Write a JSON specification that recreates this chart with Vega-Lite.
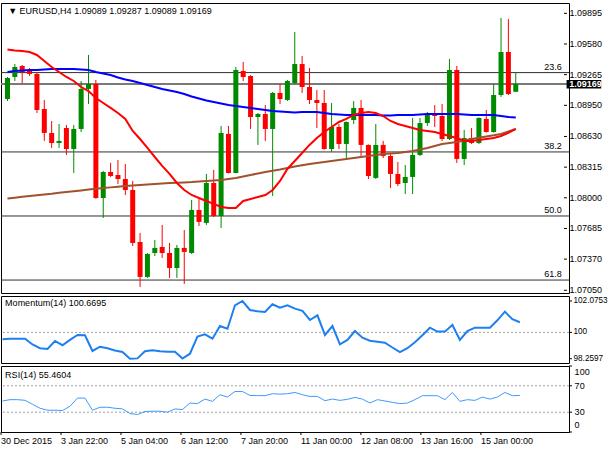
{
"$schema":"https://vega.github.io/schema/vega-lite/v6.json",
"padding":{"left":-3,"top":2,"right":0,"bottom":0},
"background":"white",
"spacing":3,
"bounds":"flush",
"config":{"view":{"stroke":"#000000","strokeWidth":1},"font":"Liberation Sans","text":{"font":"Liberation Sans","fontSize":9,"color":"#000000"}},
"datasets":{
"bars":[
{"i":0,"o":1.09015,"h":1.09241,"l":1.08994,"c":1.09231,"r":1.09523,"b":1.09292,"s":1.07993,"m":99.55,"rsi":47},
{"i":1,"o":1.09241,"h":1.09374,"l":1.092,"c":1.09344,"r":1.09513,"b":1.09302,"s":1.08001,"m":99.58,"rsi":49},
{"i":2,"o":1.09354,"h":1.09364,"l":1.09179,"c":1.09292,"r":1.09508,"b":1.09308,"s":1.0801,"m":99.58,"rsi":49},
{"i":3,"o":1.09313,"h":1.09333,"l":1.09251,"c":1.09272,"r":1.09498,"b":1.09313,"s":1.08018,"m":99.58,"rsi":48},
{"i":4,"o":1.09272,"h":1.09292,"l":1.08871,"c":1.08902,"r":1.09467,"b":1.09313,"s":1.08026,"m":99.2,"rsi":42},
{"i":5,"o":1.08912,"h":1.09005,"l":1.08584,"c":1.08666,"r":1.09405,"b":1.09318,"s":1.08034,"m":98.95,"rsi":36},
{"i":6,"o":1.08666,"h":1.08789,"l":1.08512,"c":1.08563,"r":1.09344,"b":1.09323,"s":1.08042,"m":98.9,"rsi":33},
{"i":7,"o":1.08563,"h":1.08758,"l":1.08512,"c":1.08584,"r":1.09292,"b":1.09323,"s":1.08052,"m":99.43,"rsi":33},
{"i":8,"o":1.08717,"h":1.08748,"l":1.0844,"c":1.08501,"r":1.09241,"b":1.09323,"s":1.0806,"m":99.15,"rsi":32.5},
{"i":9,"o":1.08501,"h":1.08748,"l":1.08255,"c":1.08707,"r":1.092,"b":1.09323,"s":1.08068,"m":99.5,"rsi":39},
{"i":10,"o":1.08707,"h":1.092,"l":1.08676,"c":1.09118,"r":1.09138,"b":1.09318,"s":1.08076,"m":99.83,"rsi":51.4},
{"i":11,"o":1.09118,"h":1.09467,"l":1.08964,"c":1.09169,"r":1.09097,"b":1.09313,"s":1.08084,"m":99.81,"rsi":51.4},
{"i":12,"o":1.09169,"h":1.0921,"l":1.0799,"c":1.07998,"r":1.09025,"b":1.09292,"s":1.08093,"m":98.77,"rsi":33},
{"i":13,"o":1.07998,"h":1.08276,"l":1.07793,"c":1.08265,"r":1.08974,"b":1.09277,"s":1.08101,"m":99.05,"rsi":37.5},
{"i":14,"o":1.08265,"h":1.08358,"l":1.08214,"c":1.08224,"r":1.08923,"b":1.09262,"s":1.08107,"m":98.95,"rsi":37.5},
{"i":15,"o":1.08234,"h":1.08388,"l":1.08142,"c":1.08193,"r":1.08871,"b":1.09236,"s":1.08114,"m":98.8,"rsi":36},
{"i":16,"o":1.08193,"h":1.08347,"l":1.08029,"c":1.0808,"r":1.0881,"b":1.09215,"s":1.0812,"m":98.7,"rsi":35},
{"i":17,"o":1.0808,"h":1.08173,"l":1.07505,"c":1.07536,"r":1.08686,"b":1.092,"s":1.08127,"m":98.2597,"rsi":28},
{"i":18,"o":1.07546,"h":1.07639,"l":1.07084,"c":1.07187,"r":1.08604,"b":1.09179,"s":1.08132,"m":98.28,"rsi":26.5},
{"i":19,"o":1.07187,"h":1.07433,"l":1.07177,"c":1.07423,"r":1.08512,"b":1.09159,"s":1.08137,"m":98.75,"rsi":31},
{"i":20,"o":1.07433,"h":1.07567,"l":1.07402,"c":1.07485,"r":1.08419,"b":1.09138,"s":1.08142,"m":98.82,"rsi":31.5},
{"i":21,"o":1.07495,"h":1.07721,"l":1.07382,"c":1.07433,"r":1.08327,"b":1.09118,"s":1.08147,"m":98.75,"rsi":31.5},
{"i":22,"o":1.07433,"h":1.07536,"l":1.07177,"c":1.07279,"r":1.08245,"b":1.09102,"s":1.08151,"m":98.72,"rsi":30},
{"i":23,"o":1.07279,"h":1.07515,"l":1.07177,"c":1.07485,"r":1.08152,"b":1.09087,"s":1.08155,"m":98.72,"rsi":34.9},
{"i":24,"o":1.07485,"h":1.07669,"l":1.07115,"c":1.07444,"r":1.0808,"b":1.09066,"s":1.08158,"m":98.27,"rsi":34},
{"i":25,"o":1.07433,"h":1.07978,"l":1.07423,"c":1.07875,"r":1.08029,"b":1.09041,"s":1.08162,"m":98.59,"rsi":43.9},
{"i":26,"o":1.07875,"h":1.07988,"l":1.07711,"c":1.07752,"r":1.07998,"b":1.0902,"s":1.08168,"m":99.72,"rsi":43},
{"i":27,"o":1.07742,"h":1.08245,"l":1.07721,"c":1.08152,"r":1.07967,"b":1.09,"s":1.08173,"m":99.87,"rsi":49.9},
{"i":28,"o":1.08152,"h":1.08286,"l":1.07803,"c":1.07813,"r":1.07937,"b":1.08984,"s":1.08178,"m":99.58,"rsi":46.4},
{"i":29,"o":1.07813,"h":1.08738,"l":1.0769,"c":1.08666,"r":1.07906,"b":1.08969,"s":1.08183,"m":100.42,"rsi":56.5},
{"i":30,"o":1.08656,"h":1.08738,"l":1.0825,"c":1.08255,"r":1.07895,"b":1.08953,"s":1.08193,"m":100.24,"rsi":52.9},
{"i":31,"o":1.08255,"h":1.09344,"l":1.0825,"c":1.09313,"r":1.07895,"b":1.08943,"s":1.08204,"m":101.79,"rsi":61.4},
{"i":32,"o":1.09303,"h":1.09395,"l":1.092,"c":1.09241,"r":1.07967,"b":1.08933,"s":1.08219,"m":102.0753,"rsi":61.4},
{"i":33,"o":1.09251,"h":1.0926,"l":1.08707,"c":1.0883,"r":1.07988,"b":1.08923,"s":1.08234,"m":101.48,"rsi":55.4},
{"i":34,"o":1.0883,"h":1.08871,"l":1.08543,"c":1.08861,"r":1.08008,"b":1.08912,"s":1.0825,"m":101.4,"rsi":55.2},
{"i":35,"o":1.08861,"h":1.08953,"l":1.08584,"c":1.08707,"r":1.08029,"b":1.08902,"s":1.08265,"m":101.35,"rsi":55},
{"i":36,"o":1.08707,"h":1.09087,"l":1.08019,"c":1.09077,"r":1.0808,"b":1.08892,"s":1.08278,"m":101.86,"rsi":58},
{"i":37,"o":1.09077,"h":1.09169,"l":1.08964,"c":1.09015,"r":1.08173,"b":1.08887,"s":1.08291,"m":101.63,"rsi":57.4},
{"i":38,"o":1.09005,"h":1.0921,"l":1.08994,"c":1.092,"r":1.08296,"b":1.08882,"s":1.08306,"m":101.79,"rsi":58},
{"i":39,"o":1.09179,"h":1.09703,"l":1.09169,"c":1.09374,"r":1.08378,"b":1.08877,"s":1.08322,"m":101.57,"rsi":59.9},
{"i":40,"o":1.09374,"h":1.09457,"l":1.09077,"c":1.09138,"r":1.0846,"b":1.08882,"s":1.08334,"m":101.42,"rsi":56.5},
{"i":41,"o":1.09138,"h":1.09333,"l":1.08964,"c":1.09005,"r":1.08543,"b":1.08882,"s":1.08347,"m":100.82,"rsi":53.9},
{"i":42,"o":1.09005,"h":1.09107,"l":1.08717,"c":1.08974,"r":1.08614,"b":1.08882,"s":1.08358,"m":101.13,"rsi":53.9},
{"i":43,"o":1.08974,"h":1.09107,"l":1.08495,"c":1.08501,"r":1.08676,"b":1.08871,"s":1.08368,"m":99.83,"rsi":47.5},
{"i":44,"o":1.08501,"h":1.08974,"l":1.08471,"c":1.08727,"r":1.08727,"b":1.08861,"s":1.08378,"m":100.42,"rsi":49.9},
{"i":45,"o":1.08727,"h":1.08758,"l":1.08501,"c":1.08553,"r":1.08779,"b":1.08856,"s":1.08388,"m":99.21,"rsi":47.9},
{"i":46,"o":1.08553,"h":1.08785,"l":1.08409,"c":1.08779,"r":1.0881,"b":1.08851,"s":1.08399,"m":99.5,"rsi":49.5},
{"i":47,"o":1.08799,"h":1.08994,"l":1.08758,"c":1.08923,"r":1.08851,"b":1.08851,"s":1.08409,"m":100.09,"rsi":52.4},
{"i":48,"o":1.08923,"h":1.09005,"l":1.0843,"c":1.08543,"r":1.08871,"b":1.08851,"s":1.08419,"m":99.65,"rsi":49.9},
{"i":49,"o":1.08543,"h":1.08548,"l":1.08193,"c":1.08224,"r":1.08882,"b":1.08851,"s":1.0843,"m":99.45,"rsi":43.9},
{"i":50,"o":1.08204,"h":1.08758,"l":1.08193,"c":1.08543,"r":1.08871,"b":1.08851,"s":1.0844,"m":99.38,"rsi":49},
{"i":51,"o":1.08543,"h":1.08584,"l":1.08409,"c":1.0843,"r":1.0884,"b":1.08846,"s":1.0845,"m":99.32,"rsi":47},
{"i":52,"o":1.0843,"h":1.0846,"l":1.08101,"c":1.08245,"r":1.08789,"b":1.08846,"s":1.08455,"m":99.0,"rsi":45},
{"i":53,"o":1.08245,"h":1.08368,"l":1.08121,"c":1.08142,"r":1.08758,"b":1.08851,"s":1.0846,"m":98.7,"rsi":43},
{"i":54,"o":1.08152,"h":1.08337,"l":1.08039,"c":1.08214,"r":1.08738,"b":1.08851,"s":1.08471,"m":98.95,"rsi":43.9},
{"i":55,"o":1.08214,"h":1.0882,"l":1.08039,"c":1.0844,"r":1.08717,"b":1.08851,"s":1.08481,"m":99.35,"rsi":49},
{"i":56,"o":1.0844,"h":1.0882,"l":1.0843,"c":1.08768,"r":1.08697,"b":1.08856,"s":1.08496,"m":99.81,"rsi":55},
{"i":57,"o":1.08768,"h":1.08882,"l":1.08738,"c":1.08851,"r":1.08686,"b":1.08861,"s":1.08512,"m":100.31,"rsi":55},
{"i":58,"o":1.08861,"h":1.08953,"l":1.08727,"c":1.0884,"r":1.08676,"b":1.08861,"s":1.08532,"m":100.05,"rsi":55},
{"i":59,"o":1.0884,"h":1.08964,"l":1.08584,"c":1.08604,"r":1.08656,"b":1.08861,"s":1.08553,"m":100.05,"rsi":49},
{"i":60,"o":1.08604,"h":1.09426,"l":1.08594,"c":1.09313,"r":1.08635,"b":1.08861,"s":1.08563,"m":100.49,"rsi":59.9},
{"i":61,"o":1.09313,"h":1.09354,"l":1.08358,"c":1.08399,"r":1.08614,"b":1.08861,"s":1.08573,"m":99.5,"rsi":46.4},
{"i":62,"o":1.08399,"h":1.08697,"l":1.08337,"c":1.08614,"r":1.08584,"b":1.08856,"s":1.08589,"m":100.09,"rsi":49},
{"i":63,"o":1.08614,"h":1.08717,"l":1.08553,"c":1.08563,"r":1.08584,"b":1.08851,"s":1.08604,"m":100.31,"rsi":47.9},
{"i":64,"o":1.08563,"h":1.08825,"l":1.08553,"c":1.0882,"r":1.08594,"b":1.08851,"s":1.08617,"m":100.31,"rsi":52.9},
{"i":65,"o":1.0881,"h":1.08902,"l":1.0867,"c":1.08676,"r":1.08604,"b":1.08851,"s":1.0863,"m":100.31,"rsi":49.9},
{"i":66,"o":1.08676,"h":1.09169,"l":1.0867,"c":1.09056,"r":1.08614,"b":1.08851,"s":1.08642,"m":100.8,"rsi":53},
{"i":67,"o":1.09056,"h":1.09847,"l":1.09036,"c":1.09498,"r":1.08635,"b":1.0884,"s":1.08656,"m":101.37,"rsi":59.9},
{"i":68,"o":1.09498,"h":1.09837,"l":1.09056,"c":1.09066,"r":1.08666,"b":1.0883,"s":1.08681,"m":100.87,"rsi":55},
{"i":69,"o":1.09089,"h":1.09287,"l":1.09089,"c":1.09169,"r":1.08707,"b":1.08825,"s":1.08707,"m":100.6695,"rsi":55.4604}
],
"fib":[{"lvl":"23.6","p":1.09286},{"lvl":"38.2","p":1.08471},{"lvl":"50.0","p":1.07813},{"lvl":"61.8","p":1.07155}],
"ytMain":[{"v":1.0705},{"v":1.0737},{"v":1.07685},{"v":1.08},{"v":1.08315},{"v":1.0863},{"v":1.0895},{"v":1.09265},{"v":1.0958},{"v":1.09895}],
"ytMom":[{"v":98.2597,"t":"98.2597"},{"v":100,"t":"100"},{"v":102.0753,"t":"102.0753"}],
"ytRsi":[{"v":0,"t":"0"},{"v":30,"t":"30"},{"v":70,"t":"70"},{"v":100,"t":"100"}],
"xt":[{"i":-0.2,"t":"30 Dec 2015"},{"i":7.8,"t":"3 Jan 22:00"},{"i":15.8,"t":"5 Jan 04:00"},{"i":23.8,"t":"6 Jan 12:00"},{"i":31.8,"t":"7 Jan 20:00"},{"i":39.8,"t":"11 Jan 00:00"},{"i":47.8,"t":"12 Jan 08:00"},{"i":55.8,"t":"13 Jan 16:00"},{"i":63.8,"t":"15 Jan 00:00"}]
},
"vconcat":[
{"width":568,"height":290,
"layer":[
{"data":{"name":"fib"},"mark":{"type":"rule","color":"#303030","strokeWidth":1},
 "encoding":{"y":{"field":"p","type":"quantitative","scale":{"domain":[1.07022,1.10001],"nice":false,"zero":false},"axis":null}}},
{"data":{"values":[{"p":1.09169}]},"mark":{"type":"rule","color":"#7a7a7a","strokeWidth":2},
 "encoding":{"y":{"field":"p","type":"quantitative","axis":null}}},
{"data":{"name":"bars"},"mark":{"type":"rule","strokeWidth":1},
 "encoding":{"x":{"field":"i","type":"quantitative","scale":{"domain":[-0.2,75.55],"nice":false,"zero":false},"axis":null},
  "y":{"field":"l","type":"quantitative","axis":null},"y2":{"field":"h"},
  "color":{"condition":{"test":"datum.c >= datum.o","value":"#008a00"},"value":"#ff0000"}}},
{"data":{"name":"bars"},"mark":{"type":"bar","width":5},
 "encoding":{"x":{"field":"i","type":"quantitative","axis":null},
  "y":{"field":"o","type":"quantitative","axis":null},"y2":{"field":"c"},
  "color":{"condition":{"test":"datum.c >= datum.o","value":"#008a00"},"value":"#ff0000"}}},
{"data":{"name":"bars"},"mark":{"type":"line","color":"#a0522d","strokeWidth":2},
 "encoding":{"x":{"field":"i","type":"quantitative","axis":null},"y":{"field":"s","type":"quantitative","axis":null}}},
{"data":{"name":"bars"},"mark":{"type":"line","color":"#0000ff","strokeWidth":2},
 "encoding":{"x":{"field":"i","type":"quantitative","axis":null},"y":{"field":"b","type":"quantitative","axis":null}}},
{"data":{"name":"bars"},"mark":{"type":"line","color":"#ff0000","strokeWidth":2},
 "encoding":{"x":{"field":"i","type":"quantitative","axis":null},"y":{"field":"r","type":"quantitative","axis":null}}},
{"data":{"name":"fib"},"mark":{"type":"text","align":"right","baseline":"bottom","dy":-1},
 "encoding":{"x":{"datum":75.25,"type":"quantitative"},"y":{"field":"p","type":"quantitative"},"text":{"field":"lvl"}}},
{"data":{"values":[{"t":"▼ EURUSD,H4  1.09089 1.09287 1.09089 1.09169"}]},"mark":{"type":"text","align":"left","baseline":"middle"},
 "encoding":{"x":{"datum":0.1,"type":"quantitative"},"y":{"datum":1.0992,"type":"quantitative"},"text":{"field":"t"}}},
{"data":{"name":"ytMain"},"mark":{"type":"rule","color":"#000000"},
 "encoding":{"x":{"datum":75.55,"type":"quantitative"},"x2":{"datum":75.95},"y":{"field":"v","type":"quantitative"}}},
{"data":{"name":"ytMain"},"mark":{"type":"text","align":"left","baseline":"middle"},
 "encoding":{"x":{"datum":76.3,"type":"quantitative"},"y":{"field":"v","type":"quantitative"},"text":{"field":"v","type":"quantitative","format":".5f"}}},
{"data":{"values":[{"p":1.09169}]},"mark":{"type":"rect","color":"#000000"},
 "encoding":{"x":{"datum":75.9,"type":"quantitative"},"x2":{"datum":80.6},"y":{"datum":1.0921,"type":"quantitative"},"y2":{"datum":1.09123}}},
{"data":{"values":[{"t":"1.09169","p":1.09169}]},"mark":{"type":"text","align":"left","baseline":"middle","fontWeight":"bold","color":"#ffffff"},
 "encoding":{"x":{"datum":76.25,"type":"quantitative"},"y":{"field":"p","type":"quantitative"},"text":{"field":"t"}}}
]},
{"width":568,"height":67,
"layer":[
{"data":{"values":[{"v":100}]},"mark":{"type":"rule","color":"#a0a0a0","strokeDash":[2,2]},
 "encoding":{"y":{"field":"v","type":"quantitative","scale":{"domain":[97.975,102.406],"nice":false,"zero":false},"axis":null}}},
{"data":{"name":"bars"},"mark":{"type":"line","color":"#1e80f0","strokeWidth":2},
 "encoding":{"x":{"field":"i","type":"quantitative","scale":{"domain":[-0.2,75.55],"nice":false,"zero":false},"axis":null},"y":{"field":"m","type":"quantitative","axis":null}}},
{"data":{"values":[{"t":"Momentum(14) 100.6695"}]},"mark":{"type":"text","align":"left","baseline":"middle"},
 "encoding":{"x":{"datum":0.35,"type":"quantitative"},"y":{"datum":101.94,"type":"quantitative"},"text":{"field":"t"}}},
{"data":{"name":"ytMom"},"mark":{"type":"rule","color":"#000000"},
 "encoding":{"x":{"datum":75.55,"type":"quantitative"},"x2":{"datum":75.95},"y":{"field":"v","type":"quantitative"}}},
{"data":{"name":"ytMom"},"mark":{"type":"text","align":"left","baseline":"middle","fontSize":8.2},
 "encoding":{"x":{"datum":76.15,"type":"quantitative"},"y":{"field":"v","type":"quantitative"},"text":{"field":"t"}}}
]},
{"width":568,"height":66,
"layer":[
{"data":{"values":[{"v":70},{"v":30}]},"mark":{"type":"rule","color":"#a0a0a0","strokeDash":[2,2]},
 "encoding":{"y":{"field":"v","type":"quantitative","scale":{"domain":[0,100],"nice":false,"zero":false},"axis":null}}},
{"data":{"name":"bars"},"mark":{"type":"line","color":"#3d9bff","strokeWidth":1},
 "encoding":{"x":{"field":"i","type":"quantitative","scale":{"domain":[-0.2,75.55],"nice":false,"zero":false},"axis":null},
  "y":{"field":"rsi","type":"quantitative","axis":null}}},
{"data":{"values":[{"t":"RSI(14) 55.4604"}]},"mark":{"type":"text","align":"left","baseline":"middle"},
 "encoding":{"x":{"datum":0.35,"type":"quantitative"},"y":{"datum":86.5,"type":"quantitative"},"text":{"field":"t"}}},
{"data":{"name":"ytRsi"},"mark":{"type":"rule","color":"#000000"},
 "encoding":{"x":{"datum":75.55,"type":"quantitative"},"x2":{"datum":75.95},"y":{"field":"v","type":"quantitative"}}},
{"data":{"name":"ytRsi"},"transform":[{"filter":"datum.v == 30 || datum.v == 70"}],"mark":{"type":"text","align":"left","baseline":"middle"},
 "encoding":{"x":{"datum":76.3,"type":"quantitative"},"y":{"field":"v","type":"quantitative"},"text":{"field":"t"}}},
{"data":{"name":"ytRsi"},"transform":[{"filter":"datum.v == 100"}],"mark":{"type":"text","align":"left","baseline":"top","dy":2},
 "encoding":{"x":{"datum":76.3,"type":"quantitative"},"y":{"field":"v","type":"quantitative"},"text":{"field":"t"}}},
{"data":{"name":"ytRsi"},"transform":[{"filter":"datum.v == 0"}],"mark":{"type":"text","align":"left","baseline":"bottom","dy":-2},
 "encoding":{"x":{"datum":76.3,"type":"quantitative"},"y":{"field":"v","type":"quantitative"},"text":{"field":"t"}}},
{"data":{"name":"xt"},"mark":{"type":"rule","color":"#000000"},
 "encoding":{"x":{"field":"i","type":"quantitative"},"y":{"datum":0,"type":"quantitative"},"y2":{"datum":-4.5}}},
{"data":{"name":"xt"},"mark":{"type":"text","align":"left","baseline":"middle"},
 "encoding":{"x":{"field":"i","type":"quantitative"},"y":{"datum":-13.5,"type":"quantitative"},"text":{"field":"t"}}}
]}
]
}
